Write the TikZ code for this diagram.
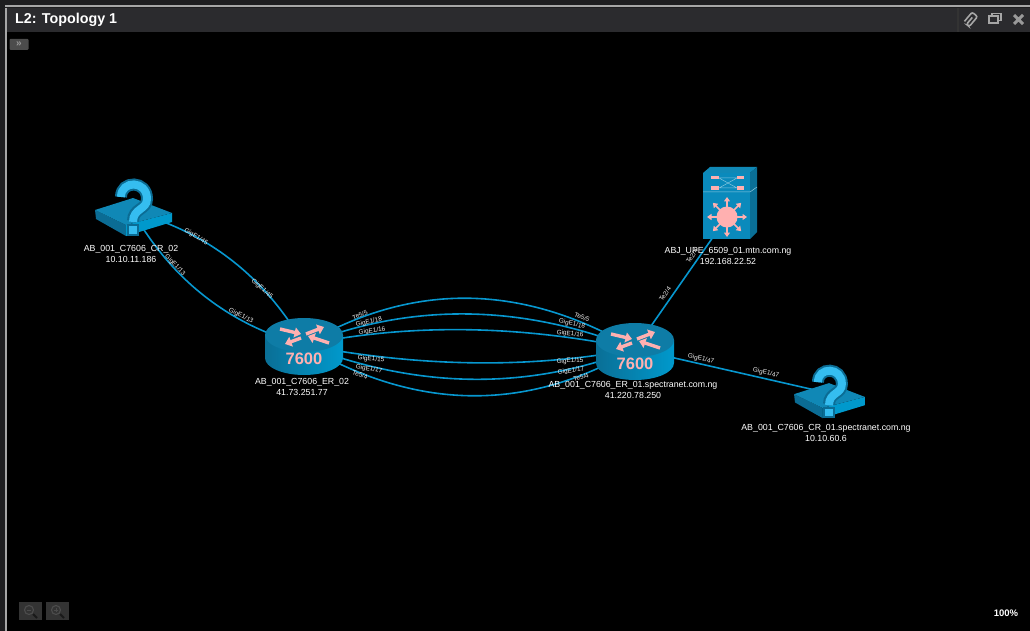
\documentclass[tikz,border=0pt]{standalone}
\usepackage{fontspec}
\setmainfont{Liberation Sans}
\usetikzlibrary{arrows.meta,calc}
\definecolor{linkblue}{HTML}{0797CF}
\definecolor{top}{HTML}{0E7CA6}
\definecolor{slabtop}{HTML}{1088B6}
\definecolor{sideA}{HTML}{0A6F96}
\definecolor{sideB}{HTML}{0099CC}
\definecolor{front}{HTML}{0A8ABC}
\definecolor{pinkish}{HTML}{FFB0B0}
\definecolor{qlight}{HTML}{35BDF0}
\definecolor{qdark}{HTML}{0B6C94}
\definecolor{chrome}{HTML}{2B2B2E}
\definecolor{labelgrey}{HTML}{EDEDED}
\tikzset{
  x=1pt,y=-1pt,
  link/.style={draw=linkblue,line width=1.6pt},
  anchorpt/.style={inner sep=0pt,minimum size=0pt},
  devlabel/.style={text=white,font=\fontsize{8.8}{10.2}\selectfont,align=center,inner sep=0pt},
  portlabel/.style={text=labelgrey,font=\fontsize{6.4}{7}\selectfont,inner sep=0pt},
  pinkarrow/.style={draw=pinkish,line width=3.4pt,-{Triangle[length=6.5pt,width=10pt]}},
  router/.pic={
    \path[left color=sideA,right color=sideB] (-39,-10) -- (-39,13) arc[x radius=39,y radius=-17,start angle=180,end angle=360] -- (39,-10) -- cycle;
    \fill[top] (0,-10) ellipse[x radius=39,y radius=17];
    \draw[pinkarrow] (-24,-16) -- (-3,-11);
    \draw[pinkarrow] (25,-2) -- (4,-9);
    \draw[pinkarrow] (2,-11) -- (20,-18);
    \draw[pinkarrow] (-3,-7) -- (-19,-1);
    \node[text=pinkish,font=\fontsize{16.5}{17}\bfseries\selectfont,inner sep=0pt] at (0,14) {7600};
  },
  unknown/.pic={
    \fill[qdark] (-38,-2) -- (-37,7) -- (-7,24) -- (-7,13) -- cycle;
    \fill[sideB] (-7,13) -- (-7,24) -- (39,10) -- (39,1) -- cycle;
    \fill[slabtop] (-38,-2) -- (0,-14) -- (39,1) -- (-7,13) -- cycle;
    \draw[qdark,line width=12pt,line cap=butt] (-12,-15) .. controls (-12,-32) and (14,-32) .. (14,-13) .. controls (14,-2) and (0,-4) .. (0,9);
    \fill[qdark] (-6,12) rectangle (6,24);
    \draw[qlight,line width=8pt,line cap=butt] (-12,-15) .. controls (-12,-32) and (14,-32) .. (14,-13) .. controls (14,-2) and (0,-4) .. (0,10);
    \fill[qlight] (-4,14) rectangle (4,22);
  },
  l3switch/.pic={
    \fill[front] (-24,-44) rectangle (23,22);
    \fill[slabtop] (-24,-44) -- (-17,-50) -- (30,-50) -- (23,-44) -- cycle;
    \fill[sideA] (23,-44) -- (30,-50) -- (30,15) -- (23,22) -- cycle;
    \draw[white!55!front,line width=.5pt] (-24,-25) -- (23,-25) -- (30,-30);
    \fill[pinkish] (-16,-41) rectangle (-8,-37.5);
    \fill[pinkish] (-16,-31) rectangle (-8,-27);
    \fill[pinkish] (10,-41) rectangle (17,-37.5);
    \fill[pinkish] (10,-31) rectangle (17,-27);
    \draw[white!50!front,line width=.5pt] (-8,-39) -- (10,-39) (-8,-29) -- (10,-29) (-8,-29) -- (10,-39) (-8,-39) -- (10,-29);
    \fill[pinkish] (0,0) circle[radius=10.5];
    \foreach \a in {0,45,...,315}
      \draw[draw=pinkish,line width=1.7pt,-{Triangle[length=4.5pt,width=6pt]}] (\a:9) -- (\a:20);
  }
}
\begin{document}
\begin{tikzpicture}
\useasboundingbox (0,0) rectangle (1030,631);
\fill[chrome!70!black] (0,0) rectangle (1030,631);
\fill[black] (6,32) rectangle (1030,631);
\fill[gray!70] (5,8) rectangle (6.5,631);
\fill[gray!70] (5,5) rectangle (1030,7);
\fill[chrome] (7,8) rectangle (1030,32);
\fill[black!80] (957,8) rectangle (959,32);
\node[anchor=west,text=white,font=\fontsize{14.3}{16}\bfseries\selectfont,inner sep=0pt] (title) at (15,20) {L2: Topology 1};
\node[fill=black!70!white,text=gray!80,font=\fontsize{10}{10}\bfseries\selectfont,inner sep=0pt,minimum width=19pt,minimum height=11pt,rounded corners=1pt] (expand) at (19,44.5) {»};
% window icons
\draw[gray!70,line width=1.6pt,rotate around={-40:(971,19)},rounded corners=2pt] (967.5,25) -- (967.5,13) -- (974.5,13) -- (974.5,26) -- (971,26) -- (971,17);
\draw[gray!70,line width=1.2pt] (989,16) rectangle (998,23);
\draw[gray!70,line width=1.2pt] (992,16) -- (992,13.5) -- (1001,13.5) -- (1001,20.5) -- (998,20.5);
\draw[gray!80,line width=3pt] (1014,15) -- (1023,24) (1023,15) -- (1014,24);
% zoom buttons
\foreach \x/\s/\n in {30/-/zout,57/+/zin}{
  \node[fill=white!20!black,minimum width=23pt,minimum height=18pt,inner sep=0pt] (\n) at (\x,611) {};
  \draw[gray!60!black,line width=1.1pt] (\x-1,610) circle[radius=4.5];
  \draw[black!90!white,line width=1.8pt] (\x+3,614) -- (\x+7,618);
  \draw[gray!60!black,line width=.8pt] (\x-3,610) -- (\x+1,610);
}
\draw[gray!60!black,line width=.8pt] (56,608) -- (56,612);
\node[text=white,font=\fontsize{9.5}{10}\bfseries\selectfont,inner sep=0pt] (pct) at (1006,613.5) {100\%};

% anchor nodes
\node[anchorpt] (cr2) at (133,212) {};
\node[anchorpt] (er2) at (304,345) {};
\node[anchorpt] (er1) at (635,349) {};
\node[anchorpt] (upe) at (727,217) {};
\node[anchorpt] (cr1) at (828,393) {};

% links
\draw[link] (cr2.center) .. controls +(75,20) and +(-39,-68) .. (er2.center);
\draw[link] (cr2.center) .. controls +(39,68) and +(-75,-20) .. (er2.center);
\draw[link] (er2.center) .. controls +(110,-65) and +(-110,-65) .. (er1.center);
\draw[link] (er2.center) .. controls +(110,-44) and +(-110,-44) .. (er1.center);
\draw[link] (er2.center) .. controls +(110,-23) and +(-110,-23) .. (er1.center);
\draw[link] (er2.center) .. controls +(110,21) and +(-110,21) .. (er1.center);
\draw[link] (er2.center) .. controls +(110,43) and +(-110,43) .. (er1.center);
\draw[link] (er2.center) .. controls +(110,65) and +(-110,65) .. (er1.center);
\draw[link] (er1.center) -- (upe.center);
\draw[link] (er1.center) -- (cr1.center);

% icons
\pic at (133,212) {unknown};
\pic[scale=.92] at (829,396) {unknown};
\pic at (304,345) {router};
\pic at (635,350) {router};
\pic at (727,217) {l3switch};

% device labels
\node[devlabel] (lcr2) at (131,254) {AB\_001\_C7606\_CR\_02\\10.10.11.186};
\node[devlabel] (ler2) at (302,387) {AB\_001\_C7606\_ER\_02\\41.73.251.77};
\node[devlabel] (ler1) at (633,390) {AB\_001\_C7606\_ER\_01.spectranet.com.ng\\41.220.78.250};
\node[devlabel] (lupe) at (728,256) {ABJ\_UPE\_6509\_01.mtn.com.ng\\192.168.22.52};
\node[devlabel] (lcr1) at (826,433) {AB\_001\_C7606\_CR\_01.spectranet.com.ng\\10.10.60.6};

% port labels
\node[portlabel,rotate=-32] (p1) at (196,237) {GigE1/45};
\node[portlabel,rotate=-43] (p2) at (262,289) {GigE1/45};
\node[portlabel,rotate=-47] (p3) at (175,265) {GigE1/13};
\node[portlabel,rotate=-27] (p4) at (241,316) {GigE1/13};
\node[portlabel,rotate=22] (p5) at (360,315) {Te5/5};
\node[portlabel,rotate=14] (p6) at (369,322) {GigE1/18};
\node[portlabel,rotate=6] (p7) at (372,331) {GigE1/16};
\node[portlabel,rotate=-5] (p8) at (371,359) {GigE1/15};
\node[portlabel,rotate=-10] (p9) at (369,369) {GigE1/17};
\node[portlabel,rotate=-17] (p10) at (360,375) {Te5/4};
\node[portlabel,rotate=-22] (p11) at (582,317) {Te5/5};
\node[portlabel,rotate=-13] (p12) at (572,324) {GigE1/18};
\node[portlabel,rotate=-6] (p13) at (570,334) {GigE1/16};
\node[portlabel,rotate=3] (p14) at (570,361) {GigE1/15};
\node[portlabel,rotate=9] (p15) at (571,371) {GigE1/17};
\node[portlabel,rotate=16] (p16) at (581,377) {Te5/4};
\node[portlabel,rotate=55] (p17) at (692,256) {Te2/4};
\node[portlabel,rotate=55] (p18) at (665,294) {Te2/4};
\node[portlabel,rotate=-13] (p19) at (701,359) {GigE1/47};
\node[portlabel,rotate=-13] (p20) at (766,373) {GigE1/47};
\end{tikzpicture}
\end{document}
